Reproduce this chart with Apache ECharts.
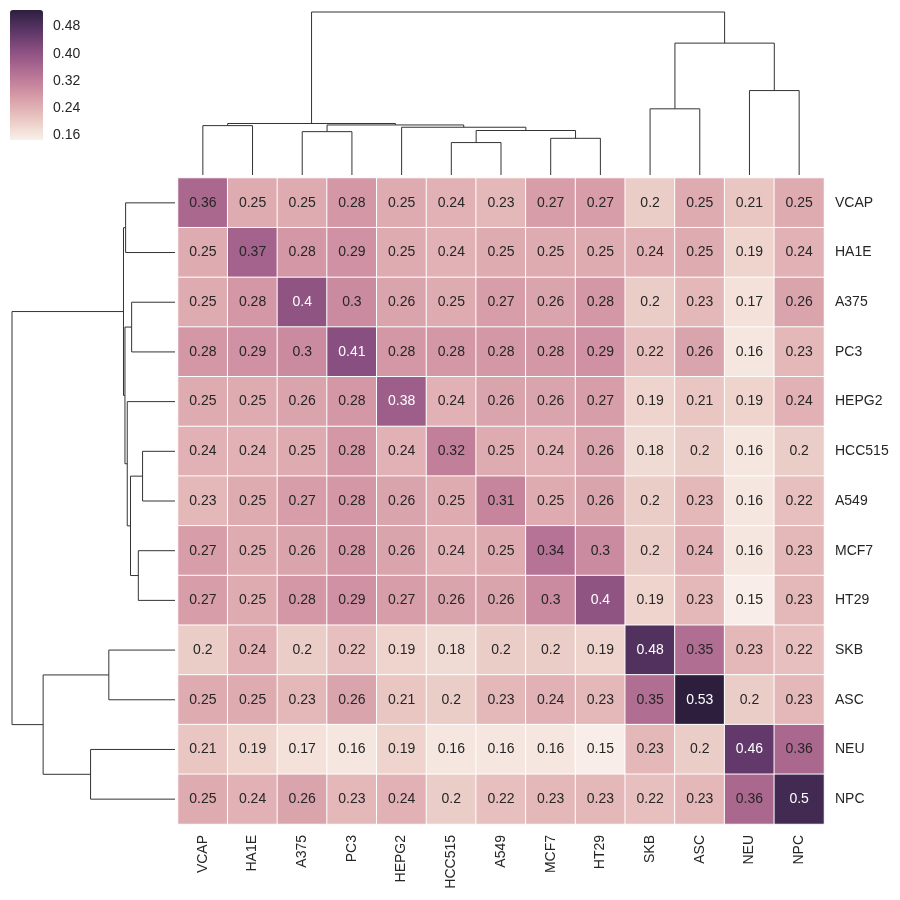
<!DOCTYPE html>
<html>
<head>
<meta charset="utf-8">
<script src="https://cdn.jsdelivr.net/npm/echarts@6/dist/echarts.min.js"></script>
<style>
  html, body { margin: 0; padding: 0; background: #fff; }
  #chart { width: 900px; height: 900px; }
</style>
</head>
<body>
<div id="chart"></div>
<script>
const cellLines = ['VCAP', 'HA1E', 'A375', 'PC3', 'HEPG2', 'HCC515', 'A549', 'MCF7', 'HT29', 'SKB', 'ASC', 'NEU', 'NPC']

// rows in the same order as cellLines
const matrix = [
  [0.36, 0.25, 0.25, 0.28, 0.25, 0.24, 0.23, 0.27, 0.27, 0.2, 0.25, 0.21, 0.25],
  [0.25, 0.37, 0.28, 0.29, 0.25, 0.24, 0.25, 0.25, 0.25, 0.24, 0.25, 0.19, 0.24],
  [0.25, 0.28, 0.4, 0.3, 0.26, 0.25, 0.27, 0.26, 0.28, 0.2, 0.23, 0.17, 0.26],
  [0.28, 0.29, 0.3, 0.41, 0.28, 0.28, 0.28, 0.28, 0.29, 0.22, 0.26, 0.16, 0.23],
  [0.25, 0.25, 0.26, 0.28, 0.38, 0.24, 0.26, 0.26, 0.27, 0.19, 0.21, 0.19, 0.24],
  [0.24, 0.24, 0.25, 0.28, 0.24, 0.32, 0.25, 0.24, 0.26, 0.18, 0.2, 0.16, 0.2],
  [0.23, 0.25, 0.27, 0.28, 0.26, 0.25, 0.31, 0.25, 0.26, 0.2, 0.23, 0.16, 0.22],
  [0.27, 0.25, 0.26, 0.28, 0.26, 0.24, 0.25, 0.34, 0.3, 0.2, 0.24, 0.16, 0.23],
  [0.27, 0.25, 0.28, 0.29, 0.27, 0.26, 0.26, 0.3, 0.4, 0.19, 0.23, 0.15, 0.23],
  [0.2, 0.24, 0.2, 0.22, 0.19, 0.18, 0.2, 0.2, 0.19, 0.48, 0.35, 0.23, 0.22],
  [0.25, 0.25, 0.23, 0.26, 0.21, 0.2, 0.23, 0.24, 0.23, 0.35, 0.53, 0.2, 0.23],
  [0.21, 0.19, 0.17, 0.16, 0.19, 0.16, 0.16, 0.16, 0.15, 0.23, 0.2, 0.46, 0.36],
  [0.25, 0.24, 0.26, 0.23, 0.24, 0.2, 0.22, 0.23, 0.23, 0.22, 0.23, 0.36, 0.5]
]

// linkage: [child a, child b, merge height]; leaves 0..12, merges numbered from 13
const linkage = [
  [5, 6, 0.199],
  [7, 8, 0.225],
  [2, 3, 0.266],
  [13, 14, 0.273],
  [4, 16, 0.293],
  [0, 1, 0.303],
  [15, 17, 0.307],
  [18, 19, 0.316],
  [9, 10, 0.406],
  [11, 12, 0.518],
  [21, 22, 0.809],
  [20, 23, 1.0]
]

const colorTicks = [0.16, 0.24, 0.32, 0.40, 0.48]
const vmin = 0.146
const vmax = 0.529

// seaborn cubehelix_palette(light=.95, as_cmap=True)
function cubehelix (x) {
  const a = 0.8 * x * (1 - x) / 2
  const phi = 2 * Math.PI * (0.4 * x)
  const c = Math.cos(phi), s = Math.sin(phi)
  const clip = v => Math.min(1, Math.max(0, v))
  return [
    clip(x + a * (-0.14861 * c + 1.78277 * s)),
    clip(x + a * (-0.29227 * c - 0.90649 * s)),
    clip(x + a * (1.97294 * c))
  ]
}
function cmap (v) {
  const t = Math.min(1, Math.max(0, (v - vmin) / (vmax - vmin)))
  return cubehelix(0.95 - 0.8 * t)
}
function hex (rgb) {
  return '#' + rgb.map(c => Math.round(c * 255).toString(16).padStart(2, '0')).join('')
}

const stops = []
for (let i = 0; i <= 24; i++) stops.push(hex(cubehelix(0.95 - 0.8 * i / 24)))

const heatData = []
matrix.forEach((row, r) => row.forEach((v, c) => {
  const rgb = cmap(v)
  const light = (Math.max(...rgb) + Math.min(...rgb)) / 2
  heatData.push({ value: [c, r, v], label: { color: light > 0.5 ? '#262626' : '#ffffff' } })
}))

// dendrogram links as [x left, h left, x right, h right, h]
const pos = cellLines.map((_, i) => i + 0.5)
const hgt = cellLines.map(() => 0)
const links = linkage.map(([a, b, h]) => {
  const d = [pos[a], hgt[a], pos[b], hgt[b], h]
  pos.push((pos[a] + pos[b]) / 2)
  hgt.push(h)
  return d
})

function dendroSeries (xi, yi, top) {
  return {
    type: 'custom',
    xAxisIndex: xi,
    yAxisIndex: yi,
    silent: true,
    clip: false,
    data: links,
    renderItem (params, api) {
      const [xl, hl, xr, hr, h] = [0, 1, 2, 3, 4].map(i => api.value(i))
      const pt = (p, q) => api.coord(top ? [p, q] : [q, p])
      return {
        type: 'polyline',
        shape: { points: [pt(xl, hl), pt(xl, h), pt(xr, h), pt(xr, hr)] },
        style: { stroke: '#333', lineWidth: 1, fill: null }
      }
    }
  }
}

const font = "'Liberation Sans', Arial, sans-serif"
const hidden = { show: false }

const chart = echarts.init(document.getElementById('chart'))
chart.setOption({
  animation: false,
  backgroundColor: '#fff',
  textStyle: { fontFamily: font },
  grid: [
    { left: 178, top: 178, width: 646, height: 646, outerBoundsMode: 'none' },
    { left: 178, top: 12, width: 646, height: 163, outerBoundsMode: 'none' },
    { left: 12, top: 178, width: 163, height: 646, outerBoundsMode: 'none' },
    { left: 10, top: 10, width: 33, height: 130, outerBoundsMode: 'none' }
  ],
  xAxis: [
    {
      gridIndex: 0,
      type: 'category',
      data: cellLines,
      position: 'bottom',
      axisLine: hidden,
      axisTick: hidden,
      splitLine: hidden,
      axisLabel: { rotate: 90, margin: 11, fontSize: 14, color: '#262626', fontFamily: font }
    },
    { gridIndex: 1, type: 'value', min: 0, max: 13, show: false },
    { gridIndex: 2, type: 'value', min: 0, max: 1, inverse: true, show: false },
    { gridIndex: 3, type: 'value', min: 0, max: 1, show: false }
  ],
  yAxis: [
    {
      gridIndex: 0,
      type: 'category',
      data: cellLines,
      inverse: true,
      position: 'right',
      axisLine: hidden,
      axisTick: hidden,
      splitLine: hidden,
      axisLabel: { margin: 11, fontSize: 14, color: '#262626', fontFamily: font }
    },
    { gridIndex: 1, type: 'value', min: 0, max: 1, show: false },
    { gridIndex: 2, type: 'value', min: 0, max: 13, inverse: true, show: false },
    {
      gridIndex: 3,
      type: 'value',
      min: vmin,
      max: vmax,
      position: 'right',
      axisLine: hidden,
      axisTick: hidden,
      splitLine: hidden,
      axisLabel: {
        customValues: colorTicks,
        margin: 10,
        fontSize: 14,
        color: '#262626',
        fontFamily: font,
        formatter: v => v.toFixed(2)
      }
    }
  ],
  visualMap: {
    type: 'continuous',
    seriesIndex: 0,
    dimension: 2,
    min: vmin,
    max: vmax,
    calculable: false,
    orient: 'vertical',
    left: 10,
    top: 10,
    padding: 0,
    itemWidth: 33,
    itemHeight: 130,
    hoverLink: false,
    inRange: { color: stops }
  },
  series: [
    {
      type: 'heatmap',
      xAxisIndex: 0,
      yAxisIndex: 0,
      data: heatData,
      itemStyle: { borderColor: '#fff', borderWidth: 1 },
      label: {
        show: true,
        fontSize: 14,
        fontFamily: font,
        textBorderWidth: 0,
        formatter: p => String(p.value[2])
      },
      emphasis: { disabled: true }
    },
    dendroSeries(1, 1, true),
    dendroSeries(2, 2, false),
    { type: 'line', xAxisIndex: 3, yAxisIndex: 3, data: [] }
  ]
})
</script>
</body>
</html>
